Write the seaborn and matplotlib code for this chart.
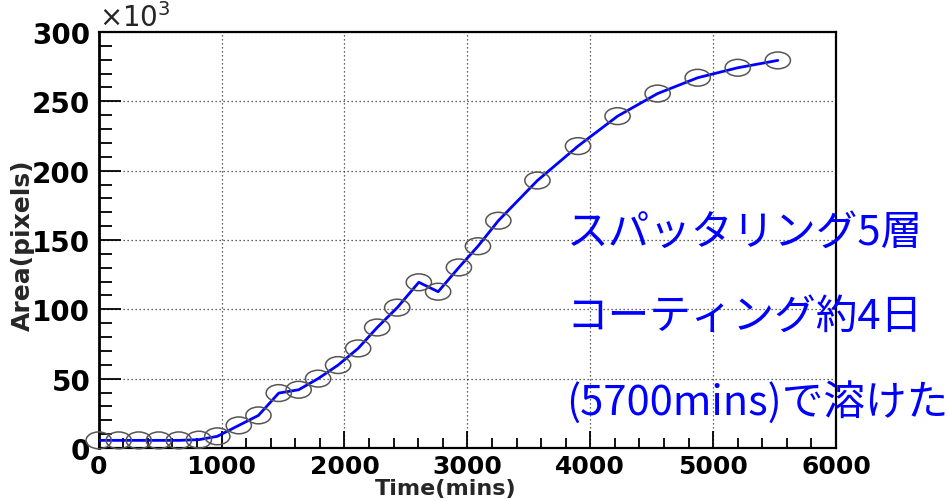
import matplotlib
matplotlib.use("Agg")
import matplotlib.pyplot as plt
from matplotlib.path import Path
from matplotlib.transforms import Affine2D
from matplotlib.ticker import MultipleLocator
import pandas as pd
import seaborn as sns

# Dissolution of the sputtered coating: measured area vs. elapsed time
time_min = [0, 163, 326, 489, 652, 815, 965, 1140, 1300, 1465, 1627, 1785,
            1948, 2111, 2266, 2429, 2605, 2762, 2931, 3086, 3252, 3570,
            3900, 4222, 4548, 4874, 5200, 5526]
area_k = [5.5, 5.5, 5.5, 5.5, 5.5, 6.0, 8.4, 16.3, 23.5, 39.6, 42.0, 50.0,
          59.8, 71.8, 86.9, 101.2, 119.5, 112.7, 130.2, 145.5, 163.9, 192.9,
          217.7, 239.3, 255.6, 267.0, 274.2, 279.5]

x_ticks = [0, 1000, 2000, 3000, 4000, 5000, 6000]
y_ticks = [0, 50, 100, 150, 200, 250, 300]

note_lines = ["スパッタリング5層", "コーティング約4日", "(5700mins)で溶けた"]

df = pd.DataFrame({"time": time_min, "area": area_k})

sns.set_style("ticks")
plt.rcParams["font.family"] = ["DejaVu Sans"]

fig = plt.figure(figsize=(9.49, 5.02), dpi=100)
ax = fig.add_axes([0.104, 0.1056, 0.777, 0.8287])

# blue curve through the measurements
sns.lineplot(data=df, x="time", y="area", ax=ax, color="#0000ff",
             linewidth=2.0, sort=False, zorder=3)

# open, slightly flattened circle markers
ellipse = Path.unit_circle().transformed(Affine2D().scale(1.5, 1.0))
sns.scatterplot(data=df, x="time", y="area", ax=ax, marker=ellipse, s=330,
                facecolors="none", edgecolor="#555555", linewidth=1.1,
                zorder=4, clip_on=False)

ax.set_xlim(0, 6000)
ax.set_ylim(0, 300)
ax.set_xticks(x_ticks)
ax.set_yticks(y_ticks)
ax.set_xticklabels([str(v) for v in x_ticks])
ax.set_yticklabels([str(v) for v in y_ticks])
ax.xaxis.set_minor_locator(MultipleLocator(200))
ax.yaxis.set_minor_locator(MultipleLocator(10))

ax.grid(True, which="major", linestyle=(0, (1, 2.2)), color="#333333",
        linewidth=0.9)
ax.set_axisbelow(True)

for side in ["left", "bottom", "right", "top"]:
    ax.spines[side].set_visible(True)
    ax.spines[side].set_color("black")
    ax.spines[side].set_linewidth(1.6)
ax.spines["left"].set_linewidth(2.0)

ax.tick_params(axis="both", which="both", direction="in", top=False,
               right=False, colors="black")
ax.tick_params(axis="y", which="major", length=16, width=1.3, pad=6,
               labelsize=20)
ax.tick_params(axis="y", which="minor", length=9, width=1.3)
ax.tick_params(axis="x", which="major", length=12, width=1.3, pad=4,
               labelsize=18)
ax.tick_params(axis="x", which="minor", length=7, width=1.3)
for lab in ax.get_xticklabels() + ax.get_yticklabels():
    lab.set_fontweight("bold")

ax.set_xlabel("Time(mins)", fontsize=16, fontweight="bold")
ax.set_ylabel("Area(pixels)", fontsize=18, fontweight="bold")
ax.xaxis.set_label_coords(0.47, -0.073)
ax.yaxis.set_label_coords(-0.086, 0.49)

ax.text(0.0, 1.0, r"$\times10^{3}$", transform=ax.transAxes,
        fontsize=20, ha="left", va="bottom")

for i, line in enumerate(note_lines):
    fig.text(0.597, 0.535 - i * 0.168, line, color="#0000ff", fontsize=30,
             family=["Noto Sans CJK JP", "DejaVu Sans"], ha="left",
             va="center")

fig.savefig("out.png", dpi=100)
